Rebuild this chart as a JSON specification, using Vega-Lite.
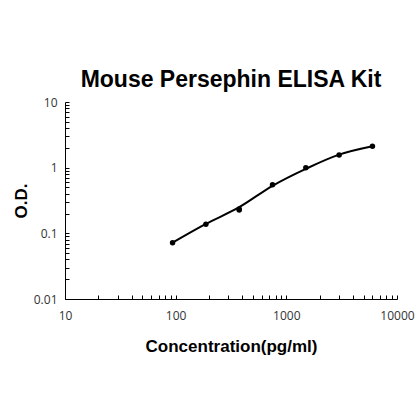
{
  "$schema": "https://vega.github.io/schema/vega-lite/v6.json",
  "autosize": {"type": "none"},
  "padding": {"left": 65, "top": 102, "right": 23, "bottom": 121},
  "width": 332,
  "height": 197,
  "background": "white",
  "title": {
    "text": "Mouse Persephin ELISA Kit",
    "font": "Liberation Sans",
    "fontSize": 23,
    "fontWeight": "bold",
    "color": "black",
    "anchor": "middle",
    "frame": "group",
    "baseline": "alphabetic",
    "offset": -14
  },
  "config": {
    "view": {"stroke": null},
    "axis": {
      "labelFont": "Open Sans",
      "titleFont": "Liberation Sans",
      "labelFontSize": 12,
      "titleFontSize": 17,
      "titleFontWeight": "bold",
      "labelColor": "#333333",
      "titleColor": "black",
      "domainColor": "black",
      "tickColor": "black",
      "grid": false,
      "labelOverlap": false,
      "labelFlush": false
    }
  },
  "datasets": {
    "points": [
      {"conc": 93.75, "od": 0.072},
      {"conc": 187.5, "od": 0.138},
      {"conc": 375, "od": 0.235},
      {"conc": 375, "od": 0.226},
      {"conc": 750, "od": 0.55},
      {"conc": 1500, "od": 1.0},
      {"conc": 3000, "od": 1.56},
      {"conc": 6000, "od": 2.12}
    ],
    "curve": [
      {"conc": 93.75, "od": 0.072},
      {"conc": 187.5, "od": 0.139},
      {"conc": 375, "od": 0.25},
      {"conc": 750, "od": 0.53},
      {"conc": 1500, "od": 0.96},
      {"conc": 3000, "od": 1.58},
      {"conc": 6000, "od": 2.12}
    ]
  },
  "encoding": {
    "x": {
      "field": "conc",
      "type": "quantitative",
      "title": "Concentration(pg/ml)",
      "scale": {"type": "log", "domain": [10, 10000], "nice": false},
      "axis": {
        "values": [10, 20, 30, 40, 50, 60, 70, 80, 90, 100, 200, 300, 400, 500, 600, 700, 800, 900, 1000, 2000, 3000, 4000, 5000, 6000, 7000, 8000, 9000, 10000],
        "labelExpr": "indexof([10, 100, 1000, 10000], datum.value) >= 0 ? toString(datum.value) : ''",
        "tickSize": -4,
        "labelPadding": 15,
        "titlePadding": 17
      }
    },
    "y": {
      "field": "od",
      "type": "quantitative",
      "title": "O.D.",
      "scale": {"type": "log", "domain": [0.01, 10], "nice": false},
      "axis": {
        "values": [0.01, 0.02, 0.03, 0.04, 0.05, 0.06, 0.07, 0.08, 0.09, 0.1, 0.2, 0.3, 0.4, 0.5, 0.6, 0.7, 0.8, 0.9, 1, 2, 3, 4, 5, 6, 7, 8, 9, 10],
        "labelExpr": "indexof([0.01, 0.1, 1, 10], datum.value) >= 0 ? toString(datum.value) : ''",
        "tickSize": -4,
        "labelPadding": 12,
        "titlePadding": 3
      }
    }
  },
  "layer": [
    {
      "data": {"name": "curve"},
      "mark": {"type": "line", "color": "black", "strokeWidth": 2, "interpolate": "monotone"}
    },
    {
      "data": {"name": "points"},
      "mark": {"type": "circle", "color": "black", "opacity": 1, "size": 30}
    }
  ]
}
